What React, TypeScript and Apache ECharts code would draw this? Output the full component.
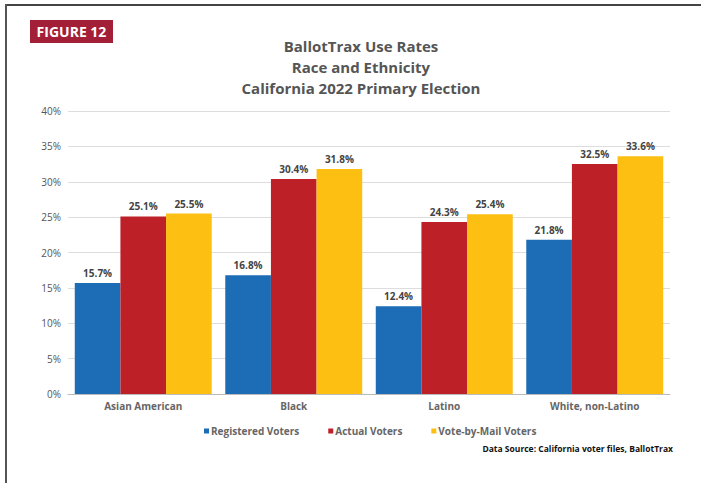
import React, { useEffect, useRef } from "react";
import * as echarts from "echarts";

const categories = ["Asian American", "Black", "Latino", "White, non-Latino"];
const registeredVoters = [15.7, 16.8, 12.4, 21.8];
const actualVoters = [25.1, 30.4, 24.3, 32.5];
const voteByMailVoters = [25.5, 31.8, 25.4, 33.6];
const seriesNames = ["Registered Voters", "Actual Voters", "Vote-by-Mail Voters"];
const seriesColors = ["#1C6DB6", "#BE2028", "#FCBF12"];
const titleLines = ["BallotTrax Use Rates", "Race and Ethnicity", "California 2022 Primary Election"];
const figureLabel = "FIGURE 12";
const sourceText = "Data Source: California voter files, BallotTrax";

const FONT = "'Open Sans', 'Noto Sans', sans-serif";

export default function App() {
  const ref = useRef<HTMLDivElement>(null);
  useEffect(() => {
    if (!ref.current) return;
    const chart = echarts.init(ref.current, undefined, { renderer: "svg" });
    const values = [registeredVoters, actualVoters, voteByMailVoters];
    chart.setOption({
      animation: false,
      backgroundColor: "#ffffff",
      textStyle: { fontFamily: FONT },
      title: {
        text: titleLines.join("\n"),
        left: 356,
        textAlign: "center",
        top: 30,
        textStyle: {
          fontFamily: FONT,
          fontSize: 15,
          fontWeight: "bold",
          color: "#555555",
          lineHeight: 21,
        },
      },
      graphic: [
        { type: "line", shape: { x1: 6, y1: 5, x2: 701, y2: 5 }, style: { stroke: "#444", lineWidth: 2 } },
        { type: "line", shape: { x1: 6, y1: 4, x2: 6, y2: 483 }, style: { stroke: "#555", lineWidth: 2 } },
        { type: "rect", shape: { x: 30, y: 20, width: 83, height: 23 }, style: { fill: "#A31F37" } },
        {
          type: "text",
          x: 71.5,
          y: 31.5,
          style: {
            text: figureLabel,
            fill: "#ffffff",
            font: `bold 14px ${FONT}`,
            align: "center",
            verticalAlign: "middle",
          },
        },
        {
          type: "text",
          x: 673,
          y: 448,
          style: {
            text: sourceText,
            fill: "#111111",
            font: `bold 8.5px ${FONT}`,
            align: "right",
            verticalAlign: "middle",
          },
        },
      ],
      legend: {
        top: 421,
        left: 199,
        itemWidth: 5,
        itemHeight: 5,
        itemGap: 29,
        icon: "rect",
        data: seriesNames,
        textStyle: { fontFamily: FONT, fontSize: 10, fontWeight: "bold", color: "#666666", padding: [0, 0, 0, -3] },
      },
      grid: { left: 68, right: 31, top: 111, bottom: 89, containLabel: false },
      xAxis: {
        type: "category",
        data: categories,
        axisLine: { lineStyle: { color: "#bbbbbb" } },
        axisTick: { show: false },
        axisLabel: { fontFamily: FONT, fontSize: 10, fontWeight: "bold", color: "#666666", margin: 7 },
      },
      yAxis: {
        type: "value",
        min: 0,
        max: 40,
        interval: 5,
        axisLine: { show: false },
        axisTick: { show: false },
        splitLine: { lineStyle: { color: "#dddddd" } },
        axisLabel: { fontFamily: FONT, fontSize: 10, color: "#555555", margin: 7, formatter: "{value}%" },
      },
      series: seriesNames.map((name, i) => ({
        name,
        type: "bar",
        data: values[i],
        barGap: "0%",
        barCategoryGap: "9%",
        itemStyle: { color: seriesColors[i] },
        label: {
          show: true,
          position: "top",
          distance: 5,
          fontFamily: FONT,
          fontSize: 10,
          fontWeight: "bold",
          color: "#444444",
          formatter: (p: any) => `${p.value.toFixed(1)}%`,
        },
      })),
    });
    return () => chart.dispose();
  }, []);
  return <div ref={ref} style={{ width: 701, height: 483, position: "absolute", left: 0, top: 0 }} />;
}
